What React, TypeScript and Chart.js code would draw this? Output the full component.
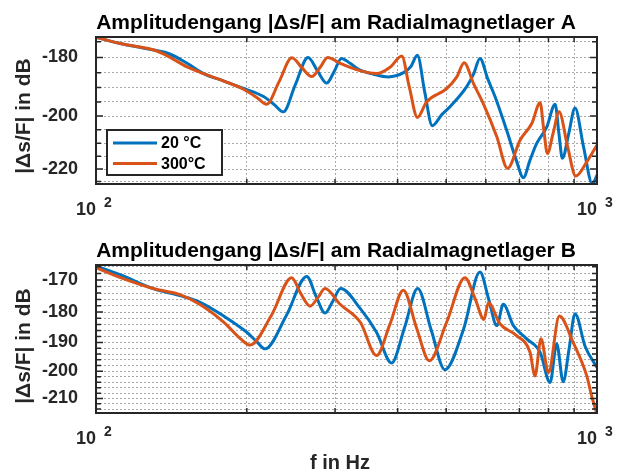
import { useEffect, useRef } from 'react';
import { Chart, registerables } from 'chart.js';

Chart.register(...registerables);

// ---------- data (frequency in Hz, magnitude in dB) ----------
const freqA20 = [100, 113, 131, 140, 152, 164, 180, 197, 216, 227, 236.5, 250, 265, 277, 288.7, 299, 309, 322, 335, 358, 383, 411, 425, 438, 453, 469, 490, 510, 549, 567, 584, 605, 626, 660, 690, 713, 735, 758, 794, 825, 839, 853, 878, 904, 940, 979, 1000];
const magA20 = [-173.6, -175.7, -177.7, -178.8, -181.9, -185.3, -187.8, -190.3, -193.1, -196.0, -198.5, -189.0, -180.0, -184.5, -188.5, -184.5, -180.3, -182.0, -184.0, -185.5, -186.4, -185.0, -183.0, -179.3, -191.5, -203.5, -199.5, -196.5, -189.8, -185.5, -180.3, -187.0, -193.2, -205.1, -216.5, -223.4, -216.5, -210.1, -203.9, -195.8, -206.0, -215.8, -206.5, -197.1, -211.4, -226.0, -222.4];

const freqA300 = [100, 113, 131, 140, 152, 164, 180, 197, 210, 219, 232, 246, 258, 269.5, 280, 290, 307, 331, 363, 387, 407.6, 422, 438, 457, 501, 525, 543, 567, 593, 631, 663, 702, 741, 770, 783, 796, 818, 840, 873, 907, 954, 1000];
const magA300 = [-173.6, -175.7, -177.7, -179.8, -183.1, -185.3, -187.8, -190.6, -193.6, -195.8, -188.0, -180.1, -183.5, -186.3, -183.3, -180.0, -181.9, -184.0, -185.3, -183.1, -179.5, -189.8, -200.5, -195.0, -190.4, -186.4, -181.7, -188.7, -195.6, -207.6, -219.7, -208.9, -202.7, -195.3, -205.0, -213.9, -206.0, -198.5, -211.0, -222.8, -217.2, -210.7];

const freqB20 = [100, 113, 130, 147, 161, 180, 200, 210, 217.4, 240, 263.4, 275, 286.5, 297, 307.8, 337, 363, 389, 413, 438.6, 467, 497, 542, 584, 608, 631, 650, 681, 724, 770, 806, 831, 856, 880, 904, 947, 1000];
const magB20 = [-165.8, -168.7, -172.6, -174.8, -176.8, -181.3, -186.6, -190.0, -192.2, -181.0, -168.9, -175.0, -180.3, -176.5, -172.6, -178.9, -186.6, -197.1, -185.0, -172.6, -186.0, -199.5, -185.4, -167.6, -176.0, -184.4, -177.5, -184.4, -188.8, -193.4, -204.1, -190.5, -203.8, -192.0, -180.5, -191.4, -198.7];

const freqB300 = [100, 113, 130, 147, 161, 180, 195, 203, 224, 245.8, 256, 267.4, 277, 286.5, 307, 337, 363, 386, 410.6, 436, 462.8, 501, 545, 571, 595, 607, 640, 691, 735, 752, 773, 800, 841, 896, 954, 976, 1000];
const magB300 = [-166.3, -169.5, -172.6, -174.5, -177.5, -183.3, -189.0, -190.9, -181.0, -169.3, -174.0, -178.1, -175.5, -172.6, -177.5, -183.3, -194.5, -184.0, -173.1, -185.0, -196.3, -183.3, -169.3, -175.7, -182.4, -177.0, -183.8, -187.7, -193.4, -201.7, -188.8, -200.5, -181.3, -190.0, -201.7, -209.1, -216.0];

// ---------- axes / labels ----------
const xTickValues = [100, 200, 300, 400, 500, 600, 700, 800, 900, 1000];
const xMajorTicks = [100, 1000];
const yTicksA = [175, 180, 185, 190, 195, 200, 205, 210, 215, 220, 225];
const yMajorA = [180, 200, 220];
const yTicksB = [166, 168, 170, 172, 174, 176, 178, 180, 182, 184, 186, 188, 190, 192, 194, 196, 198, 200, 202, 204, 206, 208, 210, 212, 214];
const yMajorB = [170, 180, 190, 200, 210];
const seriesLabels = ['20 °C', '300°C'];
const titleA = 'Amplitudengang |Δs/F| am Radialmagnetlager A';
const titleB = 'Amplitudengang |Δs/F| am Radialmagnetlager B';
const yLabel = '|Δs/F| in dB';
const xLabel = 'f in Hz';

const BLUE = '#0072BD';
const ORANGE = '#D95319';
const TEXT = '#262626';
const GRID = '#a8a8a8';
const FONT = '"Liberation Sans", Arial, Helvetica, sans-serif';

type Cfg = {
  key: string;
  f20: number[]; m20: number[]; f300: number[]; m300: number[];
  yMin: number; yMax: number; yTicks: number[]; yMajor: number[];
  areaTop: number; xAxisHeight: number;
  title: string; titleX: number;
  yLabelY: number;
  legend: boolean;
  xLabel: boolean;
};

function decorPlugin(cfg: Cfg) {
  return {
    id: 'decor' + cfg.key,
    afterDraw(chart: any) {
      const { ctx, chartArea: a, scales } = chart;
      const xs = scales.x;
      const ys = scales.y;
      ctx.save();
      // tick marks (inside box, both sides)
      ctx.strokeStyle = TEXT;
      ctx.lineWidth = 1.5;
      ctx.beginPath();
      for (const v of cfg.yTicks) {
        const y = ys.getPixelForValue(v);
        const len = cfg.yMajor.includes(v) ? 7 : 5;
        ctx.moveTo(a.left, y); ctx.lineTo(a.left + len, y);
        ctx.moveTo(a.right, y); ctx.lineTo(a.right - len, y);
      }
      for (const v of xTickValues) {
        const x = xs.getPixelForValue(v);
        ctx.moveTo(x, a.bottom); ctx.lineTo(x, a.bottom - 5);
        ctx.moveTo(x, a.top); ctx.lineTo(x, a.top + 5);
      }
      ctx.stroke();
      // frame
      ctx.lineWidth = 2;
      ctx.strokeRect(a.left, a.top, a.right - a.left, a.bottom - a.top);

      // x tick labels 10^n
      ctx.fillStyle = TEXT;
      ctx.textBaseline = 'alphabetic';
      for (const v of xMajorTicks) {
        const x = xs.getPixelForValue(v);
        ctx.font = `bold 18px ${FONT}`;
        ctx.textAlign = 'right';
        ctx.fillText('10', x, a.bottom + 31);
        ctx.font = `bold 14px ${FONT}`;
        ctx.textAlign = 'left';
        ctx.fillText(String(Math.round(Math.log10(v))), x + 8, a.bottom + 22.5);
      }

      // title
      ctx.fillStyle = '#000';
      ctx.font = `bold 21px ${FONT}`;
      ctx.textAlign = 'center';
      ctx.fillText(cfg.title, cfg.titleX, a.top - 8);

      // y label
      ctx.save();
      ctx.fillStyle = TEXT;
      ctx.translate(24, cfg.yLabelY);
      ctx.rotate(-Math.PI / 2);
      ctx.textAlign = 'center';
      ctx.textBaseline = 'middle';
      ctx.font = `bold 21px ${FONT}`;
      ctx.fillText(yLabel, 0, 0);
      ctx.restore();

      // x label
      if (cfg.xLabel) {
        ctx.fillStyle = TEXT;
        ctx.font = `bold 20px ${FONT}`;
        ctx.textAlign = 'center';
        ctx.textBaseline = 'alphabetic';
        ctx.fillText(xLabel, 340, a.bottom + 56);
      }

      // legend
      if (cfg.legend) {
        const lx = 107, ly = 130, lw = 115, lh = 45;
        ctx.fillStyle = '#fff';
        ctx.fillRect(lx, ly, lw, lh);
        ctx.strokeStyle = TEXT;
        ctx.lineWidth = 2;
        ctx.strokeRect(lx, ly, lw, lh);
        const rows = [ly + 13, ly + 33.5];
        const colors = [BLUE, ORANGE];
        ctx.lineWidth = 3;
        for (let i = 0; i < 2; i++) {
          ctx.strokeStyle = colors[i];
          ctx.beginPath();
          ctx.moveTo(lx + 6, rows[i]);
          ctx.lineTo(lx + 50, rows[i]);
          ctx.stroke();
          ctx.fillStyle = '#000';
          ctx.font = `bold 16px ${FONT}`;
          ctx.textAlign = 'left';
          ctx.textBaseline = 'middle';
          ctx.fillText(seriesLabels[i], lx + 54, rows[i] + 1);
        }
      }
      ctx.restore();
    },
  };
}

function makeChart(canvas: HTMLCanvasElement, cfg: Cfg) {
  const pts = (f: number[], m: number[]) => f.map((x, i) => ({ x, y: -m[i] }));
  const gridOpts = { color: GRID, lineWidth: 1, drawTicks: false };
  const borderOpts = { display: false, dash: [2, 2] };
  return new Chart(canvas, {
    type: 'line',
    data: {
      datasets: [
        { label: seriesLabels[0], data: pts(cfg.f20, cfg.m20), borderColor: BLUE, borderWidth: 3, pointRadius: 0, cubicInterpolationMode: 'monotone', fill: false, order: 2 },
        { label: seriesLabels[1], data: pts(cfg.f300, cfg.m300), borderColor: ORANGE, borderWidth: 3, pointRadius: 0, cubicInterpolationMode: 'monotone', fill: false, order: 1 },
      ],
    },
    options: {
      responsive: false,
      animation: false,
      devicePixelRatio: 1,
      events: [],
      layout: { padding: { left: 0, right: 28, top: cfg.areaTop, bottom: 0 } },
      plugins: { legend: { display: false }, tooltip: { enabled: false }, title: { display: false } },
      scales: {
        x: {
          type: 'logarithmic', min: 100, max: 1000,
          afterBuildTicks: (s: any) => { s.ticks = xTickValues.map((v) => ({ value: v })); },
          afterFit: (s: any) => { s.height = cfg.xAxisHeight; },
          ticks: { display: false },
          grid: gridOpts,
          border: borderOpts,
        },
        y: {
          type: 'logarithmic', reverse: true, min: cfg.yMin, max: cfg.yMax,
          afterBuildTicks: (s: any) => { s.ticks = cfg.yTicks.map((v) => ({ value: v })); },
          afterFit: (s: any) => { s.width = 96; },
          ticks: {
            autoSkip: false, padding: 18, color: TEXT,
            font: { family: FONT, size: 18, weight: 'bold' },
            callback: (v: any) => (cfg.yMajor.includes(Number(v)) ? '-' + v : ''),
          },
          grid: gridOpts,
          border: borderOpts,
        },
      },
    } as any,
    plugins: [decorPlugin(cfg)],
  });
}

export default function App() {
  const topRef = useRef<HTMLCanvasElement>(null);
  const botRef = useRef<HTMLCanvasElement>(null);

  useEffect(() => {
    const c1 = makeChart(topRef.current!, {
      key: 'A', f20: freqA20, m20: magA20, f300: freqA300, m300: magA300,
      yMin: 173.5, yMax: 226, yTicks: yTicksA, yMajor: yMajorA,
      areaTop: 37, xAxisHeight: 52, title: titleA, titleX: 336, yLabelY: 116,
      legend: true, xLabel: false,
    });
    const c2 = makeChart(botRef.current!, {
      key: 'B', f20: freqB20, m20: magB20, f300: freqB300, m300: magB300,
      yMin: 165.5, yMax: 215.5, yTicks: yTicksB, yMajor: yMajorB,
      areaTop: 29, xAxisHeight: 59, title: titleB, titleX: 336, yLabelY: 110,
      legend: false, xLabel: true,
    });
    return () => { c1.destroy(); c2.destroy(); };
  }, []);

  return (
    <div style={{ position: 'absolute', left: 0, top: 0, width: 625, height: 472, background: '#fff' }}>
      <canvas ref={topRef} width={625} height={236} style={{ position: 'absolute', left: 0, top: 0, width: 625, height: 236 }} />
      <canvas ref={botRef} width={625} height={236} style={{ position: 'absolute', left: 0, top: 236, width: 625, height: 236 }} />
    </div>
  );
}
